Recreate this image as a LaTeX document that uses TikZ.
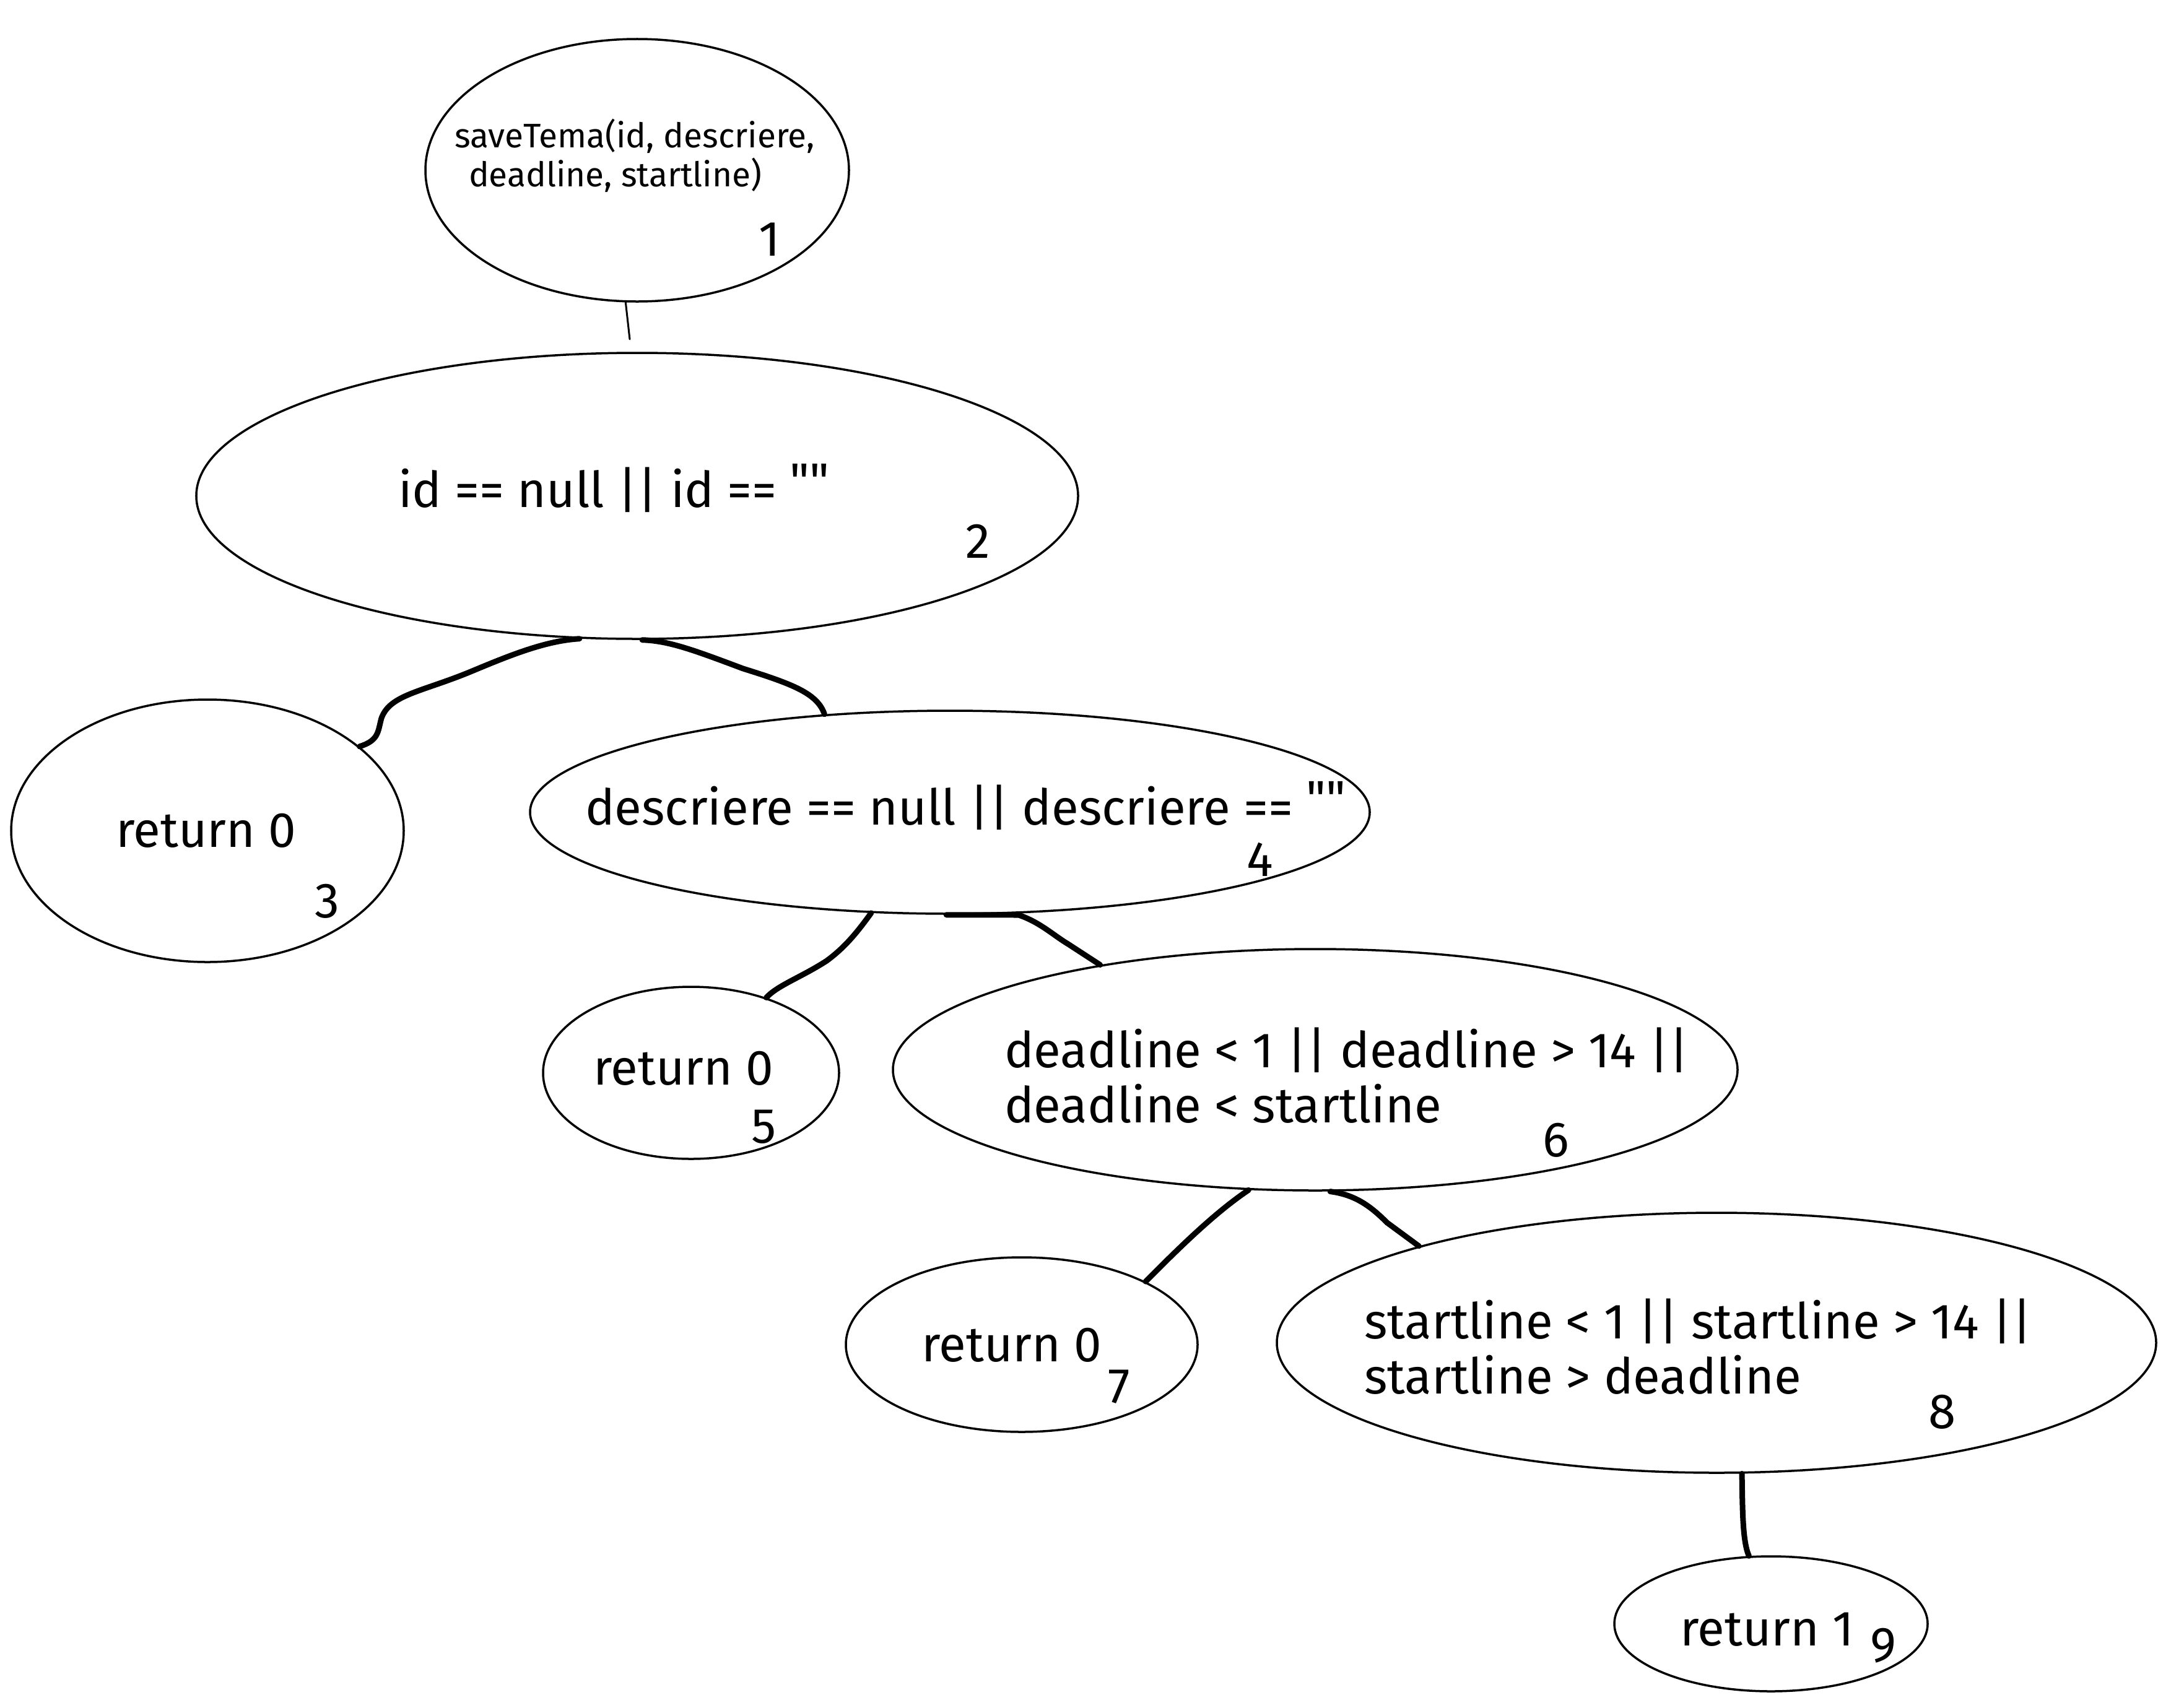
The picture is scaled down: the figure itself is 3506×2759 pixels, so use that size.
\documentclass[tikz,border=0pt]{standalone}
\usepackage{fontspec}
\setmainfont{Fira Sans}[Ligatures=TeXOff]
\usetikzlibrary{shapes.geometric}
\begin{document}
\begin{tikzpicture}[x=0.2pt,y=-0.2pt,
  oval/.style={ellipse,draw,line width=0.7pt,inner sep=0pt},
  conn/.style={line width=1.8pt,line cap=round,line join=round},
  thinconn/.style={line width=0.6pt,line cap=round},
  lbl/.style={inner sep=0pt,anchor=west,align=left,font=\fontsize{16}{17.8}\selectfont},
  small/.style={inner sep=0pt,anchor=west,align=left,font=\fontsize{11}{12.6}\selectfont},
  num/.style={inner sep=0pt,font=\fontsize{16}{18}\selectfont}]
\useasboundingbox (0,0) rectangle (3506,2759);

% ovals of the decision tree
\node[oval,minimum width=136.8pt,minimum height=84.8pt] (e1) at (1029,275) {};
\node[oval,minimum width=284.8pt,minimum height=92.4pt] (e2) at (1029,801) {};
\node[oval,minimum width=126.8pt,minimum height=84.8pt] (e3) at (335,1342) {};
\node[oval,minimum width=271.2pt,minimum height=65.6pt] (e4) at (1534,1312) {};
\node[oval,minimum width=95.6pt,minimum height=55.6pt] (e5) at (1116,1733) {};
\node[oval,minimum width=272.8pt,minimum height=78pt] (e6) at (2124,1728) {};
\node[oval,minimum width=113.6pt,minimum height=56.4pt] (e7) at (1650,2172) {};
\node[oval,minimum width=284pt,minimum height=84pt] (e8) at (2772,2169) {};
\node[oval,minimum width=101.2pt,minimum height=43.6pt] (e9) at (2860,2623) {};

% texts
\node[small] (t1) at (733,251) {saveTema(id, descriere,\\\hspace*{4.6pt}deadline, startline)};
\node[lbl] (t2) at (642,789) {id == null || id == \raisebox{3pt}{""}};
\node[lbl] (t3) at (186,1342) {return 0};
\node[lbl] (t4) at (944,1302) {descriere == null || descriere == \raisebox{3pt}{""}};
\node[lbl] (t5) at (957,1726) {return 0};
\node[lbl] (t6) at (1621,1737) {deadline < 1 || deadline > 14 ||\\deadline < startline};
\node[lbl] (t7) at (1487,2173) {return 0};
\node[lbl] (t8) at (2202,2175) {startline < 1 || startline > 14 ||\\startline > deadline};
\node[lbl] (t9) at (2712,2632) {return 1};

% numbers
\node[num] (n1) at (1243,387) {1};
\node[num] (n2) at (1579,874) {2};
\node[num] (n3) at (528,1456) {3};
\node[num] (n4) at (2035,1388) {4};
\node[num] (n5) at (1234,1820) {5};
\node[num] (n6) at (2513,1842) {6};
\node[num] (n7) at (1807,2240) {7};
\node[num] (n8) at (3137,2281) {8};
\node[num] (n9) at (3041,2658) {9};

% connectors
\coordinate (a1) at (1017,548);
\draw[thinconn] (e1.265) -- (a1);
\draw[conn] (e2.248) .. controls (880,1035) and (820,1060) .. (760,1085)
  .. controls (680,1118) and (630,1122) .. (616,1160)
  .. controls (610,1182) and (612,1196) .. (e3.29);
\draw[conn] (e2.272) .. controls (1080,1035) and (1120,1050) .. (1200,1080)
  .. controls (1280,1105) and (1320,1120) .. (e4.142);
\draw[conn] (e4.232) .. controls (1385,1505) and (1365,1530) .. (1335,1552)
  .. controls (1295,1578) and (1255,1592) .. (e5.45);
\draw[conn] (e4.268) -- (1645,1478) .. controls (1680,1490) and (1700,1510) .. (1725,1525) -- (e6.154);
\draw[conn] (e6.241) .. controls (1960,1960) and (1900,2020) .. (e7.27);
\draw[conn] (e6.277) .. controls (2190,1930) and (2215,1950) .. (2240,1975) -- (e8.162);
\draw[conn] (e8.281) .. controls (2814,2440) and (2814,2490) .. (e9.108);
\end{tikzpicture}
\end{document}
